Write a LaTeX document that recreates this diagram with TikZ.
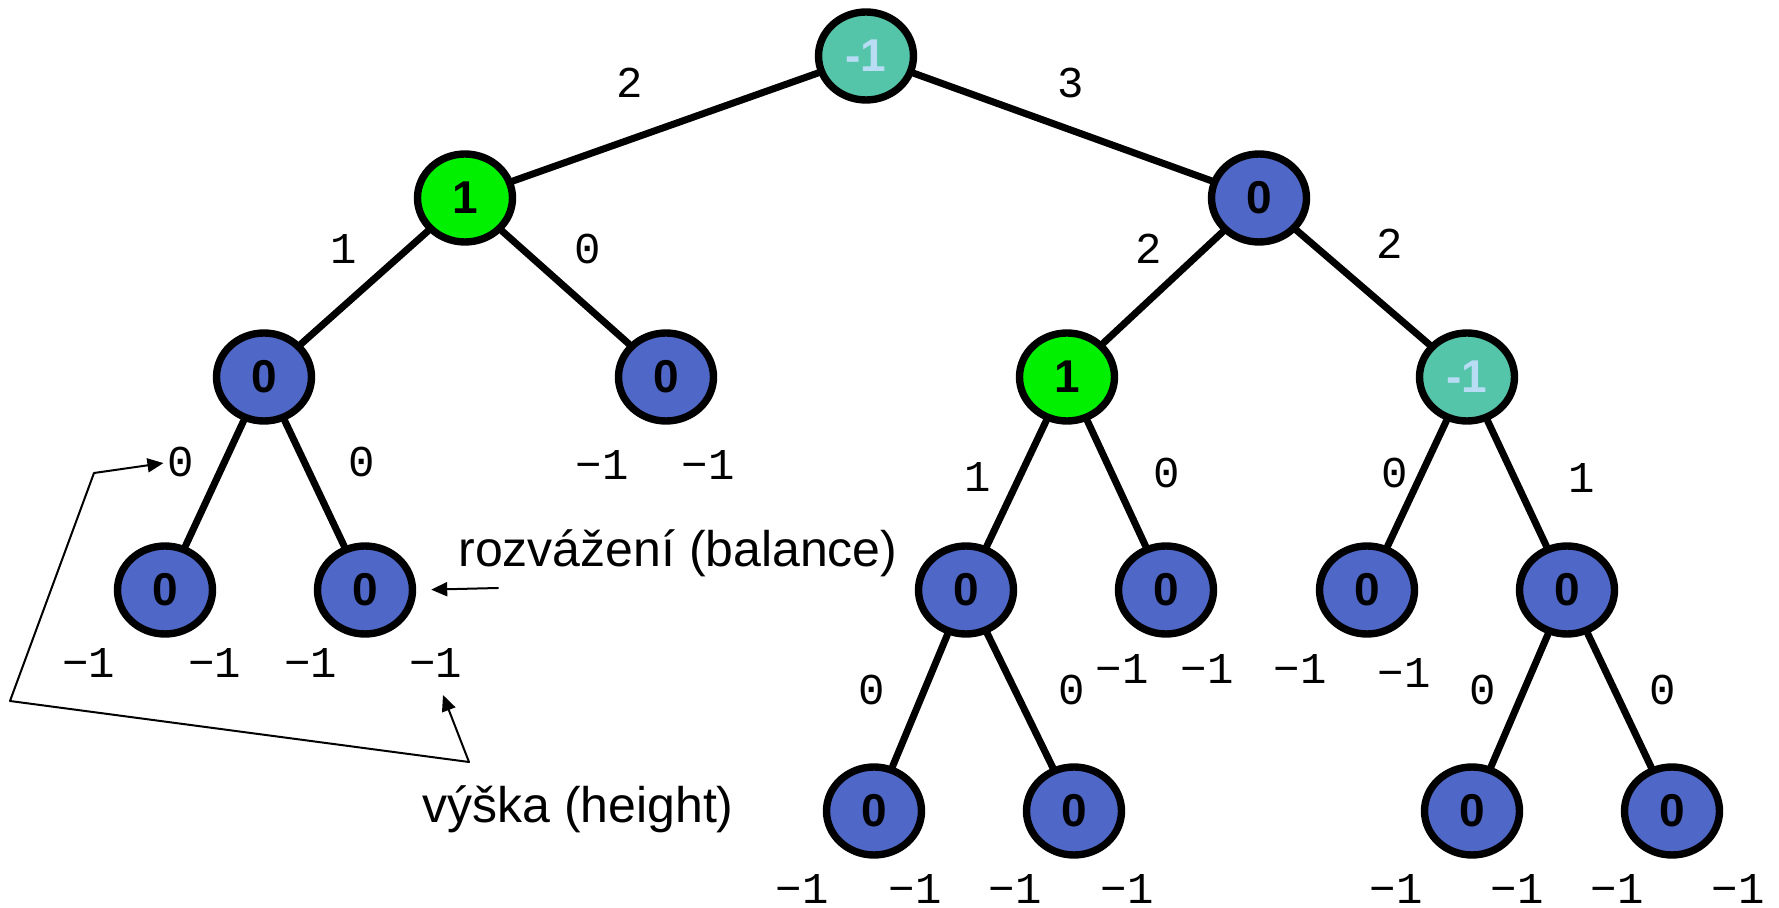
\documentclass[tikz,border=0pt]{standalone}
\usepackage{fontspec}
\setmainfont{Liberation Sans}
\newfontfamily\monofont{Liberation Mono}
\usetikzlibrary{shapes.geometric,arrows.meta}
\definecolor{avlblue}{RGB}{79,103,198}
\definecolor{avlgreen}{RGB}{0,240,0}
\definecolor{avlteal}{RGB}{85,197,170}
\definecolor{avlpale}{RGB}{185,220,245}

\begin{document}
\begin{tikzpicture}[x=0.5pt,y=-0.5pt,line cap=round,line join=round,
  balzero/.style={ellipse,draw,line width=3.7pt,fill=avlblue,minimum width=47.5pt,
    minimum height=44pt,inner sep=0pt,font=\fontsize{23}{27}\selectfont\bfseries},
  balpos/.style={balzero,fill=avlgreen},
  balneg/.style={balzero,fill=avlteal,text=avlpale},
  ht/.style={anchor=base,inner sep=0pt,font=\fontsize{22}{26}\selectfont\monofont},
  note/.style={anchor=base west,inner sep=0pt,font=\fontsize{25}{30}\selectfont},
  tree/.style={line width=3.5pt},
  hint/.style={line width=1pt,-{Triangle[length=8pt,width=7pt]}}]
  \useasboundingbox (0,0) rectangle (1779,908);
  \node[balneg] (root) at (866,56) {-1};
  \node[balpos] (l) at (465,198) {1};
  \node[balzero] (r) at (1259,198) {0};
  \node[balzero] (ll) at (264,377) {0};
  \node[balzero] (lr) at (666,377) {0};
  \node[balpos] (rl) at (1067,377) {1};
  \node[balneg] (rr) at (1467,377) {-1};
  \node[balzero] (lll) at (165,590) {0};
  \node[balzero] (llr) at (365,590) {0};
  \node[balzero] (rll) at (966,590) {0};
  \node[balzero] (rlr) at (1166,590) {0};
  \node[balzero] (rrl) at (1367,590) {0};
  \node[balzero] (rrr) at (1567,590) {0};
  \node[balzero] (rlll) at (874,811) {0};
  \node[balzero] (rllr) at (1074,811) {0};
  \node[balzero] (rrrl) at (1472,811) {0};
  \node[balzero] (rrrr) at (1672,811) {0};
  \draw[tree] (root) -- (l);
  \draw[tree] (root) -- (r);
  \draw[tree] (l) -- (ll);
  \draw[tree] (l) -- (lr);
  \draw[tree] (r) -- (rl);
  \draw[tree] (r) -- (rr);
  \draw[tree] (ll) -- (lll);
  \draw[tree] (ll) -- (llr);
  \draw[tree] (rl) -- (rll);
  \draw[tree] (rl) -- (rlr);
  \draw[tree] (rr) -- (rrl);
  \draw[tree] (rr) -- (rrr);
  \draw[tree] (rll) -- (rlll);
  \draw[tree] (rll) -- (rllr);
  \draw[tree] (rrr) -- (rrrl);
  \draw[tree] (rrr) -- (rrrr);
  \node[ht] (h2) at (630,98) {2};
  \node[ht] (h3) at (1071,98) {3};
  \node[ht] at (344,264) {1};
  \node[ht] at (588,264) {0};
  \node[ht] at (1149,264) {2};
  \node[ht] at (1390,259) {2};
  \node[ht] (hzero) at (181,477) {0};
  \node[ht] at (362,477) {0};
  \node[ht] at (602,480) {−1};
  \node[ht] at (708,480) {−1};
  \node[ht] at (978,492) {1};
  \node[ht] at (1167,488) {0};
  \node[ht] at (1395,488) {0};
  \node[ht] at (1582,493) {1};
  \foreach \x in {89,215,311,436}
    \node[ht] (hl\x) at (\x,678) {−1};
  \foreach \x in {872,1072,1483,1663}
    \node[ht] at (\x,705) {0};
  \node[ht] at (1122,684) {−1};
  \node[ht] at (1207,684) {−1};
  \node[ht] at (1300,684) {−1};
  \node[ht] at (1404,688) {−1};
  \foreach \x in {802,915,1015,1127,1396,1517,1617,1738}
    \node[ht] at (\x,903) {−1};
  \node[note] (bal) at (458,567) {rozvážení (balance)};
  \node[note] (hgt) at (422,823) {výška (height)};
  \coordinate (balfrom) at (498,588);
  \coordinate (hgtfrom) at (469,762);
  \coordinate (hgttip) at (443,695);
  \coordinate (bendlow) at (10,701);
  \coordinate (bendup) at (94,473);
  \draw[hint,shorten >=7.5pt] (balfrom) -- (llr.east);
  \draw[hint] (hgtfrom) -- (hgttip);
  \draw[hint,shorten >=2pt] (hgtfrom) -- (bendlow) -- (bendup) -- (hzero.west);
\end{tikzpicture}
\end{document}
